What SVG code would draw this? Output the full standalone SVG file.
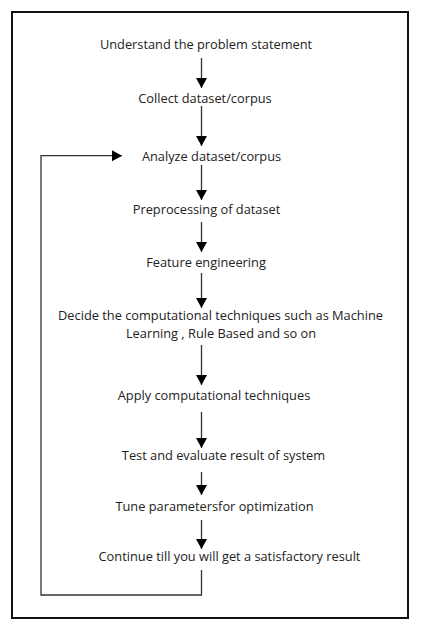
<svg xmlns="http://www.w3.org/2000/svg" width="421" height="638" viewBox="0 0 421 638">
<style>
text{font-family:"Open Sans","Noto Sans","Liberation Sans",sans-serif;font-size:12.8px;fill:#222;text-anchor:middle}
.c{stroke:#333;stroke-width:1.3;fill:none}
</style>
<defs>
<marker id="ah" markerUnits="userSpaceOnUse" markerWidth="12" markerHeight="12" viewBox="0 0 12 12" refX="10" refY="6" orient="auto">
<path d="M0,0.5 L10,6 L0,11.5 Z" fill="#000"/>
</marker>
</defs>
<rect x="12" y="12" width="396" height="606" fill="#fff" stroke="#111" stroke-width="2"/>
<g id="n1"><text x="206" y="48.5">Understand the problem statement</text></g>
<g id="n2"><text x="205" y="103">Collect dataset/corpus</text></g>
<g id="n3"><text x="211.5" y="161">Analyze dataset/corpus</text></g>
<g id="n4"><text x="206.5" y="214">Preprocessing of dataset</text></g>
<g id="n5"><text x="206" y="267">Feature engineering</text></g>
<g id="n6"><text x="220.5" y="320">Decide the computational techniques such as Machine</text><text x="221" y="338">Learning , Rule Based and so on</text></g>
<g id="n7"><text x="214" y="400">Apply computational techniques</text></g>
<g id="n8"><text x="223.5" y="460">Test and evaluate result of system</text></g>
<g id="n9"><text x="214.5" y="511">Tune parametersfor optimization</text></g>
<g id="n10"><text x="229.5" y="561">Continue till you will get a satisfactory result</text></g>
<g id="connectors">
<line class="c" x1="201.5" y1="58" x2="201.5" y2="88" marker-end="url(#ah)"/>
<line class="c" x1="201.5" y1="106" x2="201.5" y2="146" marker-end="url(#ah)"/>
<line class="c" x1="201.5" y1="165" x2="201.5" y2="200" marker-end="url(#ah)"/>
<line class="c" x1="201.5" y1="222" x2="201.5" y2="252" marker-end="url(#ah)"/>
<line class="c" x1="201.5" y1="273" x2="201.5" y2="308" marker-end="url(#ah)"/>
<line class="c" x1="201.5" y1="345" x2="201.5" y2="385" marker-end="url(#ah)"/>
<line class="c" x1="201.5" y1="412" x2="201.5" y2="448" marker-end="url(#ah)"/>
<line class="c" x1="201.5" y1="472" x2="201.5" y2="495" marker-end="url(#ah)"/>
<line class="c" x1="201.5" y1="520" x2="201.5" y2="549" marker-end="url(#ah)"/>
<polyline class="c" points="201.5,570 201.5,595 41,595 41,155.7 122,155.7" marker-end="url(#ah)"/>
</g>
</svg>
